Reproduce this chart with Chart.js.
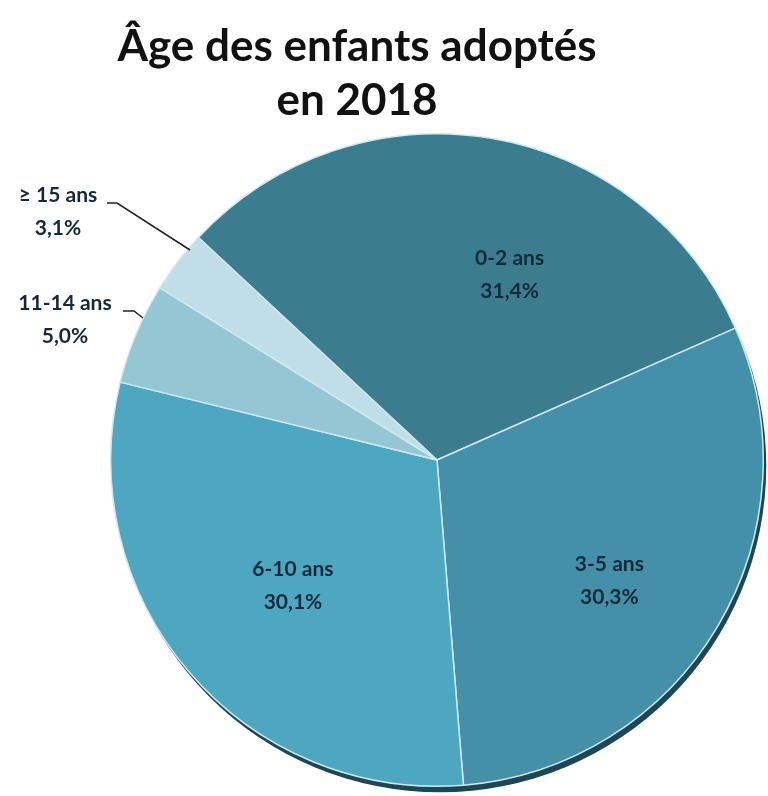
<!DOCTYPE html>
<html lang="fr">
<head>
    <meta charset="UTF-8">
    <title>Âge des enfants adoptés en 2018</title>
    <style>
        html, body { margin: 0; padding: 0; background: #ffffff; }
        #wrap { width: 768px; height: 796px; position: relative; }
    </style>
</head>
<body>
    <div id="wrap"><canvas id="pieChart"></canvas></div>

    <script src="https://cdn.jsdelivr.net/npm/chart.js"></script>
    <script>
        // données
        const categories = ['0-2 ans', '3-5 ans', '6-10 ans', '11-14 ans', '\u2265 15 ans'];
        const shares = [31.4, 30.3, 30.1, 5.0, 3.1];
        const sliceColors = ['#3b7c8f', '#4490a9', '#4ea7c1', '#94c6d4', '#c0dee7'];
        const titleLines = ['Âge des enfants adoptés', 'en 2018'];

        const fmt = v => v.toFixed(1).replace('.', ',') + '%';

        // ombre / tranche 3D sous le disque
        const rimPlugin = {
            id: 'rim',
            beforeDatasetsDraw(chart) {
                const arc = chart.getDatasetMeta(0).data[0];
                const ctx = chart.ctx;
                ctx.save();
                ctx.beginPath();
                ctx.arc(arc.x + 3, arc.y + 6, arc.outerRadius, 0, Math.PI * 2);
                ctx.fillStyle = '#1d4656';
                ctx.fill();
                ctx.restore();
            }
        };

        // titre + étiquettes
        const labelPlugin = {
            id: 'labels',
            afterDatasetsDraw(chart) {
                const ctx = chart.ctx;
                const meta = chart.getDatasetMeta(0);
                ctx.save();
                ctx.textAlign = 'center';
                ctx.textBaseline = 'middle';

                ctx.fillStyle = '#111111';
                ctx.font = 'bold 44px Lato, "Open Sans", sans-serif';
                ctx.fillText(titleLines[0], 357, 47);
                ctx.fillText(titleLines[1], 357, 101);

                ctx.fillStyle = '#15293a';
                ctx.font = 'bold 21px Lato, "Open Sans", sans-serif';

                // étiquettes dans les grandes tranches : angle (degrés depuis le haut) et rayon relatif
                const inside = [[21.4, 0.61], [125, 0.645], [229, 0.585]];
                inside.forEach((p, i) => {
                    const arc = meta.data[i];
                    const a = (p[0] - 90) * Math.PI / 180;
                    const r = arc.outerRadius * p[1];
                    const x = arc.x + Math.cos(a) * r;
                    const y = arc.y + Math.sin(a) * r;
                    ctx.fillText(categories[i], x, y - 16);
                    ctx.fillText(fmt(shares[i]), x, y + 17);
                });

                // étiquettes extérieures avec traits de rappel
                const outside = [
                    { i: 3, tx: 65, ty: 303, line: [[123, 311], [134, 311], [143, 318]] },
                    { i: 4, tx: 58, ty: 195, line: [[107, 203], [117, 203], [190, 250]] }
                ];
                outside.forEach(o => {
                    ctx.fillStyle = '#15293a';
                    ctx.fillText(categories[o.i], o.tx, o.ty);
                    ctx.fillText(fmt(shares[o.i]), o.tx, o.ty + 33);
                    ctx.beginPath();
                    ctx.moveTo(o.line[0][0], o.line[0][1]);
                    for (let k = 1; k < o.line.length; k++) ctx.lineTo(o.line[k][0], o.line[k][1]);
                    ctx.strokeStyle = '#222222';
                    ctx.lineWidth = 1.5;
                    ctx.stroke();
                });
                ctx.restore();
            }
        };

        window.onload = function() {
            const ctx = document.getElementById('pieChart').getContext('2d');
            new Chart(ctx, {
                type: 'pie',
                data: {
                    labels: categories,
                    datasets: [{
                        data: shares,
                        backgroundColor: sliceColors,
                        borderColor: '#cfe9f1',
                        borderWidth: 1.5
                    }]
                },
                options: {
                    responsive: true,
                    maintainAspectRatio: false,
                    animation: false,
                    rotation: -47,
                    layout: { padding: { left: 108, right: 2, top: 133, bottom: 9 } },
                    plugins: {
                        legend: { display: false },
                        title: { display: false },
                        tooltip: { enabled: false }
                    }
                },
                plugins: [rimPlugin, labelPlugin]
            });
        };
    </script>
</body>
</html>
